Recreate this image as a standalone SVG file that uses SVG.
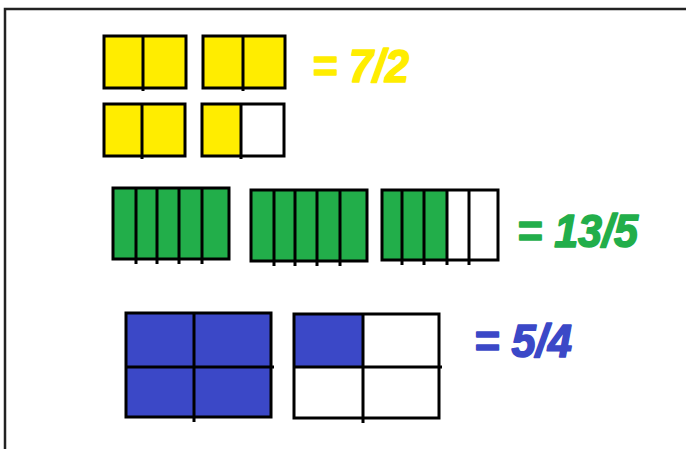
<svg xmlns="http://www.w3.org/2000/svg" width="686" height="449" viewBox="0 0 686 449">
<style>
.o{fill:none;stroke:#000;stroke-width:3}
.d{stroke:#000;stroke-width:3;fill:none}
.y{fill:#FFED00}
.g{fill:#22AE4A}
.b{fill:#3B48C7}
.w{fill:#FFFFFF}
.t{font-family:"Liberation Sans",Arial,sans-serif;font-weight:bold;font-style:italic;font-size:47px;stroke-width:1.6;stroke-linejoin:round}
</style>
<rect x="0" y="0" width="686" height="449" fill="#FFFFFF"/>
<g id="frame"><path d="M5,449 V9 H686" fill="none" stroke="#222" stroke-width="2.5"/></g>
<g id="connectors"></g>
<g id="yellow1"><rect class="y" x="104" y="36" width="82" height="52"/><rect class="o" x="104" y="36" width="82" height="52"/><path class="d" d="M143,36 V91"/></g>
<g id="yellow2"><rect class="y" x="203" y="36" width="82" height="52"/><rect class="o" x="203" y="36" width="82" height="52"/><path class="d" d="M243,36 V91"/></g>
<g id="yellow3"><rect class="y" x="104" y="104" width="81" height="52"/><rect class="o" x="104" y="104" width="81" height="52"/><path class="d" d="M142,104 V159"/></g>
<g id="yellow4"><rect class="w" x="202" y="104" width="82" height="52"/><rect class="y" x="202" y="104" width="39" height="52"/><rect class="o" x="202" y="104" width="82" height="52"/><path class="d" d="M241,104 V159"/></g>
<g id="label-yellow"><text class="t" x="312" y="82" fill="#FFED00" stroke="#FFED00" textLength="97" lengthAdjust="spacingAndGlyphs">= 7/2</text></g>
<g id="green1"><rect class="g" x="113" y="188" width="116" height="71"/><rect class="o" x="113" y="188" width="116" height="71"/><path class="d" d="M136,188 V264 M157,188 V264 M179,188 V264 M202,188 V264"/></g>
<g id="green2"><rect class="g" x="251" y="190" width="116" height="71"/><rect class="o" x="251" y="190" width="116" height="71"/><path class="d" d="M274,190 V266 M295,190 V266 M317,190 V266 M340,190 V266"/></g>
<g id="green3"><rect class="w" x="382" y="190" width="116" height="70"/><rect class="g" x="382" y="190" width="65" height="70"/><rect class="o" x="382" y="190" width="116" height="70"/><path class="d" d="M402,190 V265 M424,190 V265 M447,190 V265 M469,190 V265"/></g>
<g id="label-green"><text class="t" x="517" y="247" fill="#22AE4A" stroke="#22AE4A" textLength="121" lengthAdjust="spacingAndGlyphs">= 13/5</text></g>
<g id="blue1"><rect class="b" x="126" y="313" width="145" height="104"/><rect class="o" x="126" y="313" width="145" height="104"/><path class="d" d="M194,313 V422 M126,367 H274"/></g>
<g id="blue2"><rect class="w" x="294" y="314" width="145" height="104"/><rect class="b" x="294" y="314" width="69" height="53"/><rect class="o" x="294" y="314" width="145" height="104"/><path class="d" d="M363,314 V423 M294,367 H442"/></g>
<g id="label-blue"><text class="t" x="474" y="357" fill="#3B48C7" stroke="#3B48C7" textLength="98" lengthAdjust="spacingAndGlyphs">= 5/4</text></g>
</svg>
